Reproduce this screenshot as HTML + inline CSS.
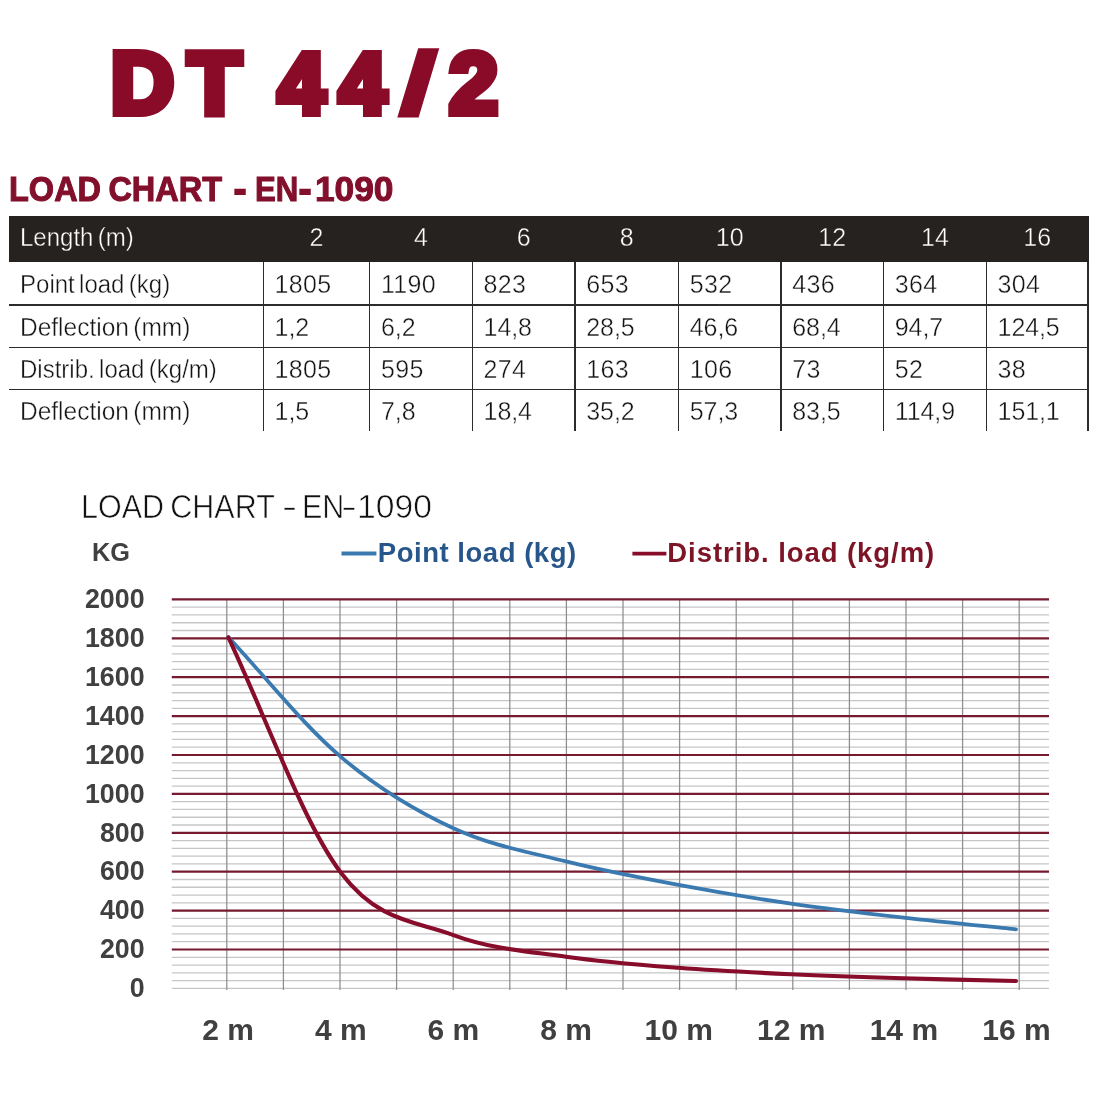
<!DOCTYPE html>
<html lang="en"><head><meta charset="utf-8"><title>DT 44/2 Load Chart</title>
<style>
html,body{margin:0;padding:0;background:#fff;}
body{width:1100px;height:1100px;position:relative;overflow:hidden;font-family:"Liberation Sans",sans-serif;}
.abs,.yl,.xl,.hc,.dc,.hl,.vl,.thead,.chart{position:absolute;}
.chart{left:0;top:0;}
h1{position:absolute;margin:0;left:0;top:32.8px;width:600px;height:100px;font-weight:bold;font-size:87.5px;line-height:100px;color:#890b28;white-space:nowrap;-webkit-text-stroke:8px #890b28;}
h1 span{position:absolute;top:0;display:block;}
h1 .n{transform:scale(0.97,0.97);transform-origin:0 84.3px;}
h1 .n2{transform:scaleY(0.97);transform-origin:0 84.3px;}
h1 .sl{transform:translateY(0.2px) skewX(-4deg) scale(1.15,0.945);transform-origin:50% 50%;}
h2{position:absolute;margin:0;left:0;top:168.6px;width:500px;height:40px;font-weight:bold;font-size:34.2px;line-height:40px;color:#820f2b;-webkit-text-stroke:1px #820f2b;white-space:nowrap;}
h2 span,.ct span{position:absolute;top:0;display:block;transform-origin:0 0;}
h2 .a{left:9.4px;word-spacing:-1.8px;transform:scaleX(0.9505);}
h2 .b{left:233.6px;transform:scaleX(1.067);-webkit-text-stroke-width:2px;}
h2 .c{left:254.8px;transform:scaleX(0.911);}
h2 .d{left:299.2px;transform:scaleX(1.067);-webkit-text-stroke-width:2px;}
h2 .e{left:315px;transform:scaleX(1.032);}
.thead{background:#26221f;}
.hc{color:#fff;font-size:25px;line-height:30px;white-space:nowrap;-webkit-text-stroke:0.4px #26221f;}
.ctr{text-align:center;}
.dc{color:#141414;font-size:25px;line-height:30px;white-space:nowrap;letter-spacing:0.3px;-webkit-text-stroke:0.4px #fff;}
.lab{font-size:25.4px;letter-spacing:0;word-spacing:-2.5px;transform:scaleX(0.946);transform-origin:0 0;}
.lab.w{transform:scaleX(0.9646);}
.cm{letter-spacing:-0.1px;}
.hl{left:8.5px;width:1080.2px;height:1.4px;background:#2c2c2c;}
.vl{top:262px;height:169.2px;width:1.4px;background:#2c2c2c;}
.ct{left:0;top:488.3px;width:600px;height:38px;font-size:33.3px;line-height:38px;color:#111;-webkit-text-stroke:0.65px #fff;white-space:nowrap;}
.ct .a{left:80.7px;word-spacing:-2.5px;transform:scaleX(0.9165);}
.ct .b{left:281.8px;transform:scaleX(1.357);}
.ct .c{left:301.6px;transform:scaleX(0.916);}
.ct .d{left:341.1px;transform:scaleX(1.443);}
.ct .e{left:357.2px;transform:scaleX(1.012);}
.kg{left:92px;top:537px;transform:scaleX(0.955);transform-origin:0 0;font-size:26.5px;line-height:30px;font-weight:bold;color:#404040;}
.yl{left:44.6px;width:100px;text-align:right;font-size:26.8px;line-height:30px;font-weight:bold;color:#404040;}
.xl{width:100px;text-align:center;top:1012.9px;font-size:30px;line-height:34px;font-weight:bold;color:#404040;}
.lg{top:536.4px;font-size:27.5px;line-height:34px;font-weight:bold;white-space:nowrap;}
</style></head><body>
<h1><span style="left:110.7px">D</span><span style="left:187.7px">T</span> <span class="n" style="left:278.1px">4</span><span class="n" style="left:339.4px">4</span><span class="sl" style="left:405.6px">/</span><span class="n2" style="left:449.3px">2</span></h1>
<h2><span class="a">LOAD CHART</span> <span class="b">-</span> <span class="c">EN</span><span class="d">-</span><span class="e">1090</span></h2>
<div class="thead" style="left:8.5px;top:215.5px;width:1080.2px;height:46.9px"></div>
<div class="hc lab" style="left:19.7px;top:222.3px">Length (m)</div>
<div class="hc ctr" style="left:263.3px;width:106.4px;top:222.3px">2</div>
<div class="hc ctr" style="left:369.7px;width:102.6px;top:222.3px">4</div>
<div class="hc ctr" style="left:472.3px;width:102.7px;top:222.3px">6</div>
<div class="hc ctr" style="left:575.0px;width:103.5px;top:222.3px">8</div>
<div class="hc ctr" style="left:678.5px;width:102.5px;top:222.3px">10</div>
<div class="hc ctr" style="left:781.0px;width:102.5px;top:222.3px">12</div>
<div class="hc ctr" style="left:883.5px;width:102.8px;top:222.3px">14</div>
<div class="hc ctr" style="left:986.3px;width:101.7px;top:222.3px">16</div>
<div class="dc lab" style="left:19.7px;top:269.2px">Point load (kg)</div>
<div class="dc" style="left:274.6px;top:269.2px">1805</div>
<div class="dc" style="left:381.0px;top:269.2px">1190</div>
<div class="dc" style="left:483.6px;top:269.2px">823</div>
<div class="dc" style="left:586.3px;top:269.2px">653</div>
<div class="dc" style="left:689.8px;top:269.2px">532</div>
<div class="dc" style="left:792.3px;top:269.2px">436</div>
<div class="dc" style="left:894.8px;top:269.2px">364</div>
<div class="dc" style="left:997.6px;top:269.2px">304</div>
<div class="hl" style="top:304.2px"></div>
<div class="dc lab w" style="left:19.7px;top:311.7px">Deflection (mm)</div>
<div class="dc cm" style="left:274.6px;top:311.7px">1,2</div>
<div class="dc cm" style="left:381.0px;top:311.7px">6,2</div>
<div class="dc cm" style="left:483.6px;top:311.7px">14,8</div>
<div class="dc cm" style="left:586.3px;top:311.7px">28,5</div>
<div class="dc cm" style="left:689.8px;top:311.7px">46,6</div>
<div class="dc cm" style="left:792.3px;top:311.7px">68,4</div>
<div class="dc cm" style="left:894.8px;top:311.7px">94,7</div>
<div class="dc cm" style="left:997.6px;top:311.7px">124,5</div>
<div class="hl" style="top:346.6px"></div>
<div class="dc lab" style="left:19.7px;top:354.1px">Distrib. load (kg/m)</div>
<div class="dc" style="left:274.6px;top:354.1px">1805</div>
<div class="dc" style="left:381.0px;top:354.1px">595</div>
<div class="dc" style="left:483.6px;top:354.1px">274</div>
<div class="dc" style="left:586.3px;top:354.1px">163</div>
<div class="dc" style="left:689.8px;top:354.1px">106</div>
<div class="dc" style="left:792.3px;top:354.1px">73</div>
<div class="dc" style="left:894.8px;top:354.1px">52</div>
<div class="dc" style="left:997.6px;top:354.1px">38</div>
<div class="hl" style="top:388.9px"></div>
<div class="dc lab w" style="left:19.7px;top:396.4px">Deflection (mm)</div>
<div class="dc cm" style="left:274.6px;top:396.4px">1,5</div>
<div class="dc cm" style="left:381.0px;top:396.4px">7,8</div>
<div class="dc cm" style="left:483.6px;top:396.4px">18,4</div>
<div class="dc cm" style="left:586.3px;top:396.4px">35,2</div>
<div class="dc cm" style="left:689.8px;top:396.4px">57,3</div>
<div class="dc cm" style="left:792.3px;top:396.4px">83,5</div>
<div class="dc cm" style="left:894.8px;top:396.4px">114,9</div>
<div class="dc cm" style="left:997.6px;top:396.4px">151,1</div>
<div class="vl" style="left:262.6px"></div>
<div class="vl" style="left:369.0px"></div>
<div class="vl" style="left:471.6px"></div>
<div class="vl" style="left:574.3px"></div>
<div class="vl" style="left:677.8px"></div>
<div class="vl" style="left:780.3px"></div>
<div class="vl" style="left:882.8px"></div>
<div class="vl" style="left:985.6px"></div>
<div class="vl" style="left:1087.3px"></div>
<div class="abs ct"><span class="a">LOAD CHART</span> <span class="b">-</span> <span class="c">EN</span><span class="d">-</span><span class="e">1090</span></div>
<div class="abs kg">KG</div>
<svg class="chart" width="1100" height="1100" viewBox="0 0 1100 1100">
<line x1="171.8" x2="1049.0" y1="988.40" y2="988.40" stroke="#c6c6c6" stroke-width="1.3"/>
<line x1="171.8" x2="1049.0" y1="980.62" y2="980.62" stroke="#c6c6c6" stroke-width="1.3"/>
<line x1="171.8" x2="1049.0" y1="972.84" y2="972.84" stroke="#c6c6c6" stroke-width="1.3"/>
<line x1="171.8" x2="1049.0" y1="965.06" y2="965.06" stroke="#c6c6c6" stroke-width="1.3"/>
<line x1="171.8" x2="1049.0" y1="957.28" y2="957.28" stroke="#c6c6c6" stroke-width="1.3"/>
<line x1="171.8" x2="1049.0" y1="941.72" y2="941.72" stroke="#c6c6c6" stroke-width="1.3"/>
<line x1="171.8" x2="1049.0" y1="933.94" y2="933.94" stroke="#c6c6c6" stroke-width="1.3"/>
<line x1="171.8" x2="1049.0" y1="926.16" y2="926.16" stroke="#c6c6c6" stroke-width="1.3"/>
<line x1="171.8" x2="1049.0" y1="918.38" y2="918.38" stroke="#c6c6c6" stroke-width="1.3"/>
<line x1="171.8" x2="1049.0" y1="902.82" y2="902.82" stroke="#c6c6c6" stroke-width="1.3"/>
<line x1="171.8" x2="1049.0" y1="895.04" y2="895.04" stroke="#c6c6c6" stroke-width="1.3"/>
<line x1="171.8" x2="1049.0" y1="887.26" y2="887.26" stroke="#c6c6c6" stroke-width="1.3"/>
<line x1="171.8" x2="1049.0" y1="879.48" y2="879.48" stroke="#c6c6c6" stroke-width="1.3"/>
<line x1="171.8" x2="1049.0" y1="863.92" y2="863.92" stroke="#c6c6c6" stroke-width="1.3"/>
<line x1="171.8" x2="1049.0" y1="856.14" y2="856.14" stroke="#c6c6c6" stroke-width="1.3"/>
<line x1="171.8" x2="1049.0" y1="848.36" y2="848.36" stroke="#c6c6c6" stroke-width="1.3"/>
<line x1="171.8" x2="1049.0" y1="840.58" y2="840.58" stroke="#c6c6c6" stroke-width="1.3"/>
<line x1="171.8" x2="1049.0" y1="825.02" y2="825.02" stroke="#c6c6c6" stroke-width="1.3"/>
<line x1="171.8" x2="1049.0" y1="817.24" y2="817.24" stroke="#c6c6c6" stroke-width="1.3"/>
<line x1="171.8" x2="1049.0" y1="809.46" y2="809.46" stroke="#c6c6c6" stroke-width="1.3"/>
<line x1="171.8" x2="1049.0" y1="801.68" y2="801.68" stroke="#c6c6c6" stroke-width="1.3"/>
<line x1="171.8" x2="1049.0" y1="786.12" y2="786.12" stroke="#c6c6c6" stroke-width="1.3"/>
<line x1="171.8" x2="1049.0" y1="778.34" y2="778.34" stroke="#c6c6c6" stroke-width="1.3"/>
<line x1="171.8" x2="1049.0" y1="770.56" y2="770.56" stroke="#c6c6c6" stroke-width="1.3"/>
<line x1="171.8" x2="1049.0" y1="762.78" y2="762.78" stroke="#c6c6c6" stroke-width="1.3"/>
<line x1="171.8" x2="1049.0" y1="747.22" y2="747.22" stroke="#c6c6c6" stroke-width="1.3"/>
<line x1="171.8" x2="1049.0" y1="739.44" y2="739.44" stroke="#c6c6c6" stroke-width="1.3"/>
<line x1="171.8" x2="1049.0" y1="731.66" y2="731.66" stroke="#c6c6c6" stroke-width="1.3"/>
<line x1="171.8" x2="1049.0" y1="723.88" y2="723.88" stroke="#c6c6c6" stroke-width="1.3"/>
<line x1="171.8" x2="1049.0" y1="708.32" y2="708.32" stroke="#c6c6c6" stroke-width="1.3"/>
<line x1="171.8" x2="1049.0" y1="700.54" y2="700.54" stroke="#c6c6c6" stroke-width="1.3"/>
<line x1="171.8" x2="1049.0" y1="692.76" y2="692.76" stroke="#c6c6c6" stroke-width="1.3"/>
<line x1="171.8" x2="1049.0" y1="684.98" y2="684.98" stroke="#c6c6c6" stroke-width="1.3"/>
<line x1="171.8" x2="1049.0" y1="669.42" y2="669.42" stroke="#c6c6c6" stroke-width="1.3"/>
<line x1="171.8" x2="1049.0" y1="661.64" y2="661.64" stroke="#c6c6c6" stroke-width="1.3"/>
<line x1="171.8" x2="1049.0" y1="653.86" y2="653.86" stroke="#c6c6c6" stroke-width="1.3"/>
<line x1="171.8" x2="1049.0" y1="646.08" y2="646.08" stroke="#c6c6c6" stroke-width="1.3"/>
<line x1="171.8" x2="1049.0" y1="630.52" y2="630.52" stroke="#c6c6c6" stroke-width="1.3"/>
<line x1="171.8" x2="1049.0" y1="622.74" y2="622.74" stroke="#c6c6c6" stroke-width="1.3"/>
<line x1="171.8" x2="1049.0" y1="614.96" y2="614.96" stroke="#c6c6c6" stroke-width="1.3"/>
<line x1="171.8" x2="1049.0" y1="607.18" y2="607.18" stroke="#c6c6c6" stroke-width="1.3"/>
<line x1="226.80" x2="226.80" y1="599.4" y2="989.9" stroke="#8e8e92" stroke-width="1.25"/>
<line x1="283.40" x2="283.40" y1="599.4" y2="989.9" stroke="#8e8e92" stroke-width="1.25"/>
<line x1="340.00" x2="340.00" y1="599.4" y2="989.9" stroke="#8e8e92" stroke-width="1.25"/>
<line x1="396.60" x2="396.60" y1="599.4" y2="989.9" stroke="#8e8e92" stroke-width="1.25"/>
<line x1="453.20" x2="453.20" y1="599.4" y2="989.9" stroke="#8e8e92" stroke-width="1.25"/>
<line x1="509.80" x2="509.80" y1="599.4" y2="989.9" stroke="#8e8e92" stroke-width="1.25"/>
<line x1="566.40" x2="566.40" y1="599.4" y2="989.9" stroke="#8e8e92" stroke-width="1.25"/>
<line x1="623.00" x2="623.00" y1="599.4" y2="989.9" stroke="#8e8e92" stroke-width="1.25"/>
<line x1="679.60" x2="679.60" y1="599.4" y2="989.9" stroke="#8e8e92" stroke-width="1.25"/>
<line x1="736.20" x2="736.20" y1="599.4" y2="989.9" stroke="#8e8e92" stroke-width="1.25"/>
<line x1="792.80" x2="792.80" y1="599.4" y2="989.9" stroke="#8e8e92" stroke-width="1.25"/>
<line x1="849.40" x2="849.40" y1="599.4" y2="989.9" stroke="#8e8e92" stroke-width="1.25"/>
<line x1="906.00" x2="906.00" y1="599.4" y2="989.9" stroke="#8e8e92" stroke-width="1.25"/>
<line x1="962.60" x2="962.60" y1="599.4" y2="989.9" stroke="#8e8e92" stroke-width="1.25"/>
<line x1="1019.20" x2="1019.20" y1="599.4" y2="989.9" stroke="#8e8e92" stroke-width="1.25"/>
<line x1="171.8" x2="1049.0" y1="949.50" y2="949.50" stroke="#761a2f" stroke-width="2.2"/>
<line x1="171.8" x2="1049.0" y1="910.60" y2="910.60" stroke="#761a2f" stroke-width="2.2"/>
<line x1="171.8" x2="1049.0" y1="871.70" y2="871.70" stroke="#761a2f" stroke-width="2.2"/>
<line x1="171.8" x2="1049.0" y1="832.80" y2="832.80" stroke="#761a2f" stroke-width="2.2"/>
<line x1="171.8" x2="1049.0" y1="793.90" y2="793.90" stroke="#761a2f" stroke-width="2.2"/>
<line x1="171.8" x2="1049.0" y1="755.00" y2="755.00" stroke="#761a2f" stroke-width="2.2"/>
<line x1="171.8" x2="1049.0" y1="716.10" y2="716.10" stroke="#761a2f" stroke-width="2.2"/>
<line x1="171.8" x2="1049.0" y1="677.20" y2="677.20" stroke="#761a2f" stroke-width="2.2"/>
<line x1="171.8" x2="1049.0" y1="638.30" y2="638.30" stroke="#761a2f" stroke-width="2.2"/>
<line x1="171.8" x2="1049.0" y1="599.40" y2="599.40" stroke="#761a2f" stroke-width="2.2"/>
<path d="M228.4 637.3 C269.5 681.2 303.4 725.1 340.9 756.9 C378.4 788.8 415.9 810.9 453.4 828.3 C490.9 845.7 528.5 852.0 566.0 861.4 C603.5 870.8 641.0 877.9 678.5 884.9 C716.0 892.0 753.5 898.2 791.0 903.6 C828.5 909.0 866.0 913.3 903.5 917.6 C941.0 921.9 997.3 927.3 1016.0 929.3" fill="none" stroke="#3b7ab1" stroke-width="3.8" stroke-linecap="round" stroke-linejoin="round"/>
<path d="M228.4 637.3 C267.4 720.8 303.4 823.0 340.9 872.7 C378.4 922.3 415.9 921.1 453.4 935.1 C490.9 949.1 528.5 951.3 566.0 956.7 C603.5 962.1 641.0 964.9 678.5 967.8 C716.0 970.7 753.5 972.5 791.0 974.2 C828.5 976.0 866.0 977.2 903.5 978.3 C941.0 979.4 997.3 980.6 1016.0 981.0" fill="none" stroke="#870d2b" stroke-width="4.1" stroke-linecap="round" stroke-linejoin="round"/>
<line x1="341.5" x2="376.4" y1="553.5" y2="553.5" stroke="#3b7ab1" stroke-width="3.8"/>
<line x1="632.4" x2="666.4" y1="553.6" y2="553.6" stroke="#870d2b" stroke-width="3.8"/>
</svg>
<div class="abs lg" style="left:377.8px;color:#27578a;letter-spacing:0.53px">Point load (kg)</div>
<div class="abs lg" style="left:667.3px;color:#7d1526;letter-spacing:0.94px">Distrib. load (kg/m)</div>
<div class="yl" style="top:973.1px">0</div><div class="yl" style="top:934.2px">200</div><div class="yl" style="top:895.3px">400</div><div class="yl" style="top:856.4px">600</div><div class="yl" style="top:817.5px">800</div><div class="yl" style="top:778.6px">1000</div><div class="yl" style="top:739.7px">1200</div><div class="yl" style="top:700.8px">1400</div><div class="yl" style="top:661.9px">1600</div><div class="yl" style="top:623.0px">1800</div><div class="yl" style="top:584.1px">2000</div><div class="xl" style="left:178.2px">2 m</div><div class="xl" style="left:290.8px">4 m</div><div class="xl" style="left:403.4px">6 m</div><div class="xl" style="left:516.1px">8 m</div><div class="xl" style="left:628.7px">10 m</div><div class="xl" style="left:741.3px">12 m</div><div class="xl" style="left:853.9px">14 m</div><div class="xl" style="left:966.5px">16 m</div>
</body></html>
